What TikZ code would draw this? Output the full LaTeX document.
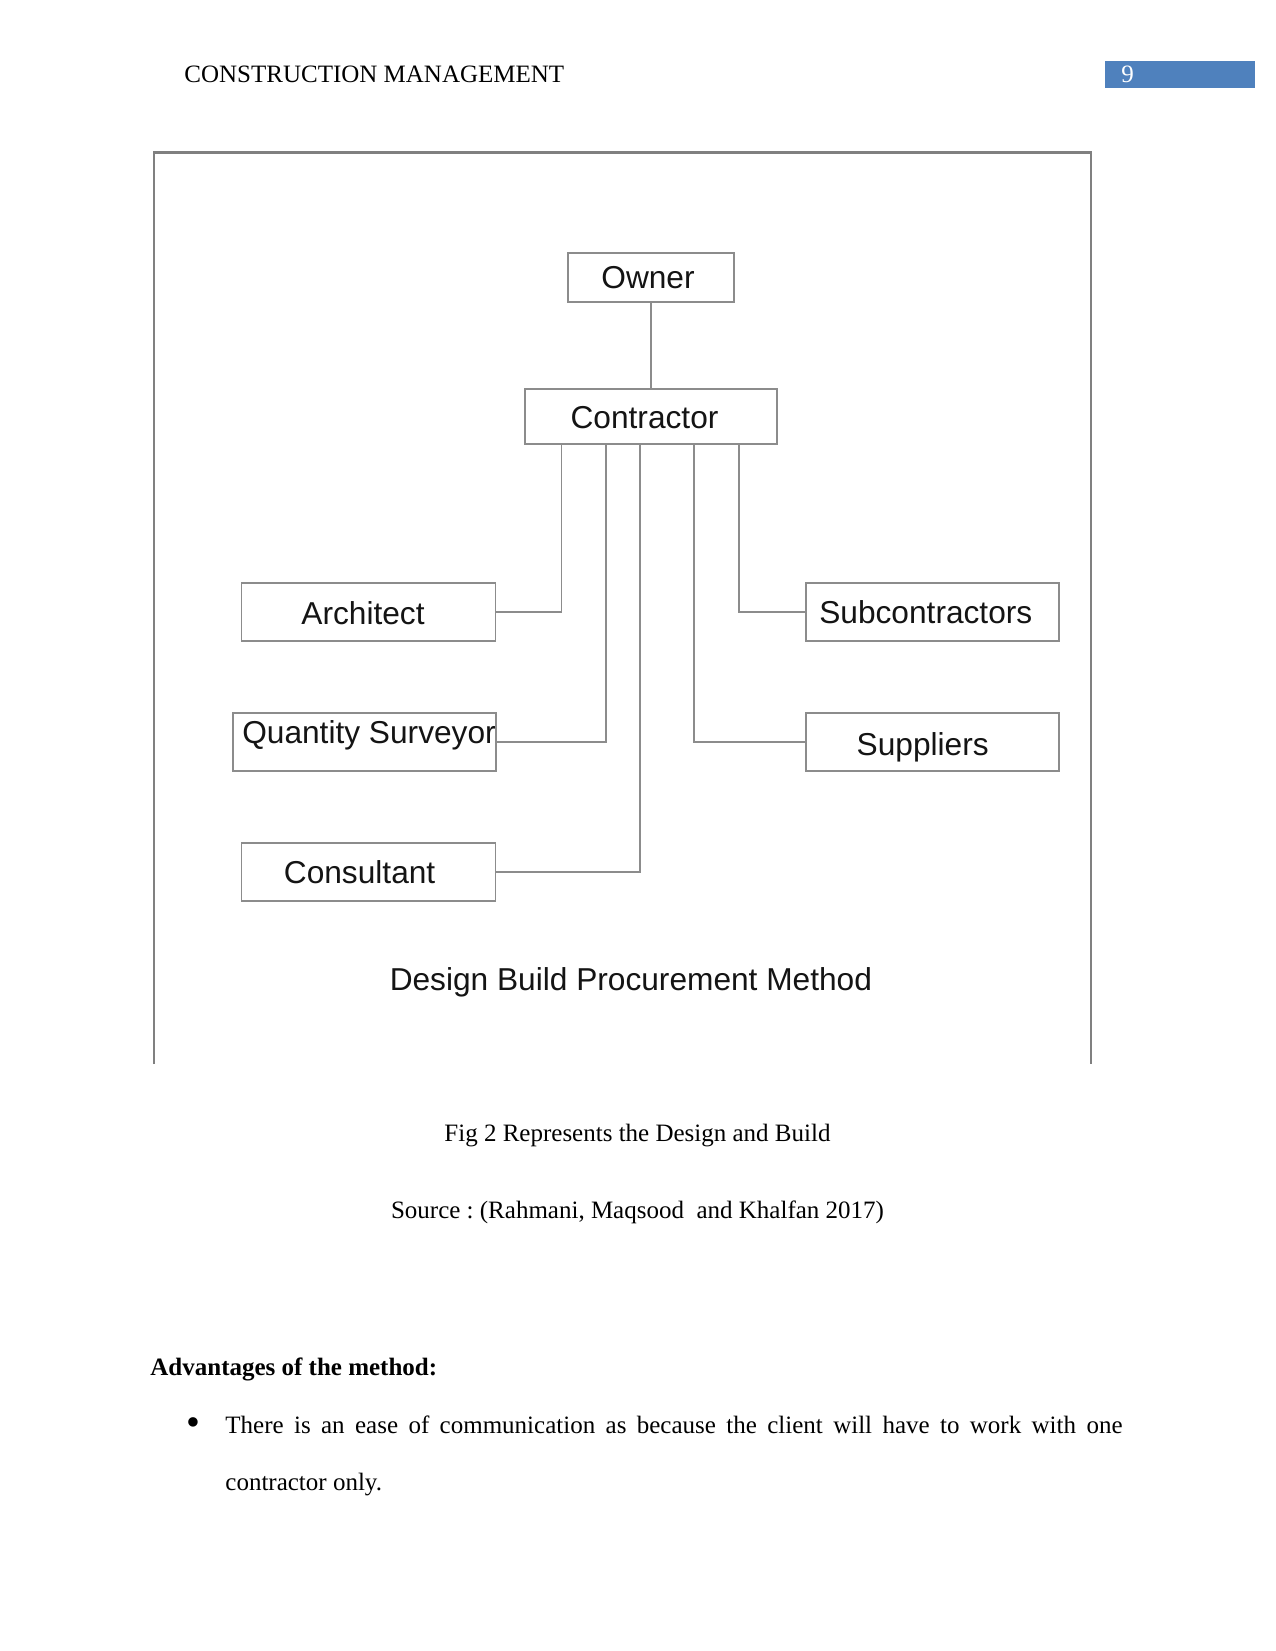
\documentclass[tikz,border=0pt]{standalone}
\usepackage{fontspec}
\setmainfont{Liberation Serif}
\newfontfamily\diagfont{Liberation Sans}
\usetikzlibrary{calc}
\definecolor{hdrblue}{HTML}{4F81BD}
\definecolor{linegray}{HTML}{8C8C8C}
\definecolor{framegray}{HTML}{808080}
\definecolor{diagtext}{HTML}{141414}
\frenchspacing
\begin{document}
\begin{tikzpicture}[x=0.48pt,y=-0.48pt,
  orgbox/.style={draw=linegray, line width=0.7pt, fill=white, inner sep=0pt, minimum height=27.8pt},
  boxlabel/.style={inner sep=0pt, anchor=base, font=\diagfont\fontsize{15.2pt}{18pt}\selectfont, text=diagtext},
  link/.style={draw=linegray, line width=0.65pt},
  bodytext/.style={inner sep=0pt, font=\fontsize{12pt}{14pt}\selectfont}]
\useasboundingbox (0,0) rectangle (1275,1651);
\fill[white] (0,0) rectangle (1275,1651);

% header
\node[bodytext, anchor=base west] (hdr) at (184,83) {CONSTRUCTION MANAGEMENT};
\fill[hdrblue] (1105,61) rectangle (1255,88);
\node[bodytext, anchor=base west, text=white] (pagenum) at (1121,83) {9};

% figure frame (open at bottom)
\draw[framegray, line width=1pt] (154,1064) -- (154,152.5) -- (1090.7,152.5) -- (1090.7,1064);

% boxes
\node[orgbox, minimum width=79.7pt, minimum height=23.5pt] (owner) at (651,277.5) {};
\node[orgbox, minimum width=121pt, minimum height=26.4pt] (contractor) at (651,416.5) {};
\node[orgbox, minimum width=121.9pt] (architect) at (368.7,612) {};
\node[orgbox, minimum width=126.2pt] (qs) at (364.5,742) {};
\node[orgbox, minimum width=121.9pt] (consultant) at (368.7,872) {};
\node[orgbox, minimum width=121.4pt] (subs) at (932.5,612) {};
\node[orgbox, minimum width=121.4pt] (suppliers) at (932.5,742) {};

% connectors
\draw[link] (owner.south) -- (contractor.north);
\draw[link] ($(contractor.south)+(-89.3,0)$) |- (architect.east);
\draw[link] ($(contractor.south)+(-45,0)$) |- (qs.east);
\draw[link] ($(contractor.south)+(-11,0)$) |- (consultant.east);
\draw[link] ($(contractor.south)+(43,0)$) |- (suppliers.west);
\draw[link] ($(contractor.south)+(88,0)$) |- (subs.west);

% box labels
\node[boxlabel] (ownerT) at (648,289) {Owner};
\node[boxlabel] (contractorT) at (644.5,428.8) {Contractor};
\node[boxlabel] (architectT) at (363,624.8) {Architect};
\node[boxlabel] (qsT) at (369,743.8) {Quantity Surveyor};
\node[boxlabel] (consultantT) at (359.6,883.3) {Consultant};
\node[boxlabel] (subsT) at (925.8,623.8) {Subcontractors};
\node[boxlabel] (suppliersT) at (922.7,755) {Suppliers};
\node[boxlabel] (title) at (630.9,990) {Design Build Procurement Method};

% caption and body text
\node[bodytext, anchor=base] (caption) at (637.5,1141) {Fig 2 Represents the Design and Build};
\node[bodytext, anchor=base] (source) at (637.5,1218) {Source : (Rahmani, Maqsood\ \ and Khalfan 2017)};
\node[bodytext, anchor=base west, font=\fontsize{12pt}{14pt}\selectfont\bfseries] (adv) at (150,1375) {Advantages of the method:};
\node[bodytext, anchor=base west, font=\fontsize{19pt}{20pt}\selectfont] (bullet) at (186,1435) {\textbullet};
\node[bodytext, anchor=base west] (line1) at (225,1433) {\makebox[430.6pt][s]{There is an ease of communication as because the client will have to work with one}};
\node[bodytext, anchor=base west] (line2) at (225,1490) {contractor only.};
\end{tikzpicture}
\end{document}
